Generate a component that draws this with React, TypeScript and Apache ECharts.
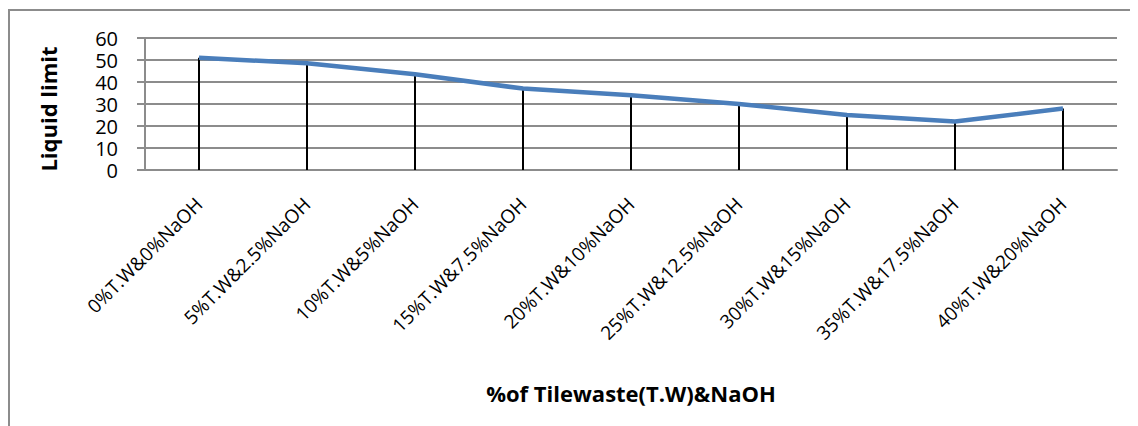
import React, { useEffect, useRef } from "react";
import * as echarts from "echarts";

const categories = [
  "0%T.W&0%NaOH",
  "5%T.W&2.5%NaOH",
  "10%T.W&5%NaOH",
  "15%T.W&7.5%NaOH",
  "20%T.W&10%NaOH",
  "25%T.W&12.5%NaOH",
  "30%T.W&15%NaOH",
  "35%T.W&17.5%NaOH",
  "40%T.W&20%NaOH",
];
const liquidLimit = [51, 48.5, 43.5, 37, 34, 30, 25, 22, 28];
const xName = "%of Tilewaste(T.W)&NaOH";
const yName = "Liquid limit";

const FONT = "'Open Sans', sans-serif";

export default function App() {
  const ref = useRef<HTMLDivElement>(null);
  useEffect(() => {
    if (!ref.current) return;
    const chart = echarts.init(ref.current, undefined, { renderer: "svg" });
    chart.setOption({
      animation: false,
      backgroundColor: "#ffffff",
      graphic: [
        {
          type: "rect",
          shape: { x: 1, y: 2, width: 1300, height: 600 },
          style: { fill: "none", stroke: "#8c8c8c", lineWidth: 2 },
          silent: true,
        },
      ],
      grid: { left: 137, top: 30, right: 21, bottom: 256 },
      xAxis: {
        type: "category",
        data: categories,
        boundaryGap: true,
        axisLine: { lineStyle: { color: "#8c8c8c", width: 2 } },
        axisTick: { show: false },
        axisLabel: {
          rotate: 45,
          interval: 0,
          margin: 31,
          fontSize: 19,
          color: "#000",
          fontFamily: FONT,
        },
        name: xName,
        nameLocation: "middle",
        nameGap: 212,
        nameTextStyle: { fontSize: 22, fontWeight: "bold", color: "#000", fontFamily: FONT },
      },
      yAxis: {
        type: "value",
        min: 0,
        max: 60,
        interval: 10,
        axisLine: { show: true, lineStyle: { color: "#8c8c8c", width: 2 } },
        axisTick: { show: true, length: 8, lineStyle: { color: "#8c8c8c", width: 2 } },
        splitLine: { lineStyle: { color: "#8c8c8c", width: 2 } },
        axisLabel: { fontSize: 20, color: "#000", margin: 27, fontFamily: FONT, lineHeight: 20 },
        name: yName,
        nameLocation: "middle",
        nameGap: 86,
        nameTextStyle: {
          fontSize: 22,
          fontWeight: "bold",
          color: "#000",
          fontFamily: FONT,
          padding: [0, 10, 0, 0],
        },
      },
      series: [
        {
          type: "bar",
          data: liquidLimit,
          barWidth: 2,
          itemStyle: { color: "#000" },
          silent: true,
        },
        {
          type: "line",
          data: liquidLimit,
          symbol: "none",
          lineStyle: { color: "#4a7ebb", width: 4.5 },
          z: 5,
        },
      ],
    });
    return () => chart.dispose();
  }, []);
  return <div ref={ref} style={{ width: 1130, height: 418 }} />;
}
